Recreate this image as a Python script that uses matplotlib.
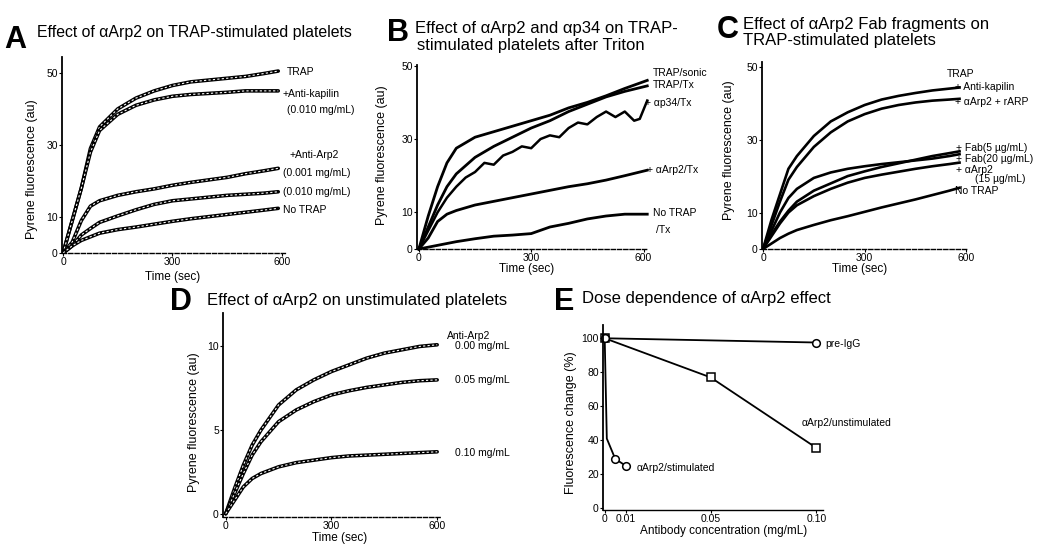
import matplotlib
matplotlib.use('Agg')
import matplotlib.pyplot as plt

plt.rcParams['font.family'] = ['Liberation Sans', 'DejaVu Sans']
plt.rcParams['pdf.fonttype'] = 42

W, H = 1050, 555

# ---------------- data ----------------
# A: TRAP-stimulated platelets, antibody against Arp2
t_a = [0, 25, 50, 75, 100, 150, 200, 250, 300, 350, 400, 450, 500, 550, 590]
a_trap = [0, 9, 18, 29, 35, 40, 43, 45, 46.5, 47.5, 48, 48.5, 49, 49.8, 50.5]
a_kapilin = [0, 9, 18, 28, 34, 38.5, 41, 42.5, 43.5, 44, 44.3, 44.6, 45, 45, 45]
a_arp2_001 = [0, 3, 9, 13, 14.5, 16, 17, 17.8, 18.8, 19.6, 20.3, 21, 22, 22.8, 23.5]
a_arp2_010 = [0, 2, 5, 6.8, 8.5, 10.3, 12, 13.5, 14.5, 15, 15.5, 16, 16.3, 16.6, 17]
a_notrap = [0, 2, 3.5, 4.5, 5.5, 6.5, 7.2, 8, 8.8, 9.5, 10.1, 10.7, 11.3, 11.9, 12.4]

# B: after Triton
t_b = [0, 25, 50, 75, 100, 150, 200, 250, 300, 350, 400, 450, 500, 550, 610]
b_sonic = [0, 9, 17, 23.5, 27.5, 30.5, 32, 33.5, 35, 36.5, 38.5, 40, 41.8, 43.8, 46]
b_tx = [0, 6, 12, 17, 20.5, 25, 28, 30.5, 33, 35, 37.5, 39.5, 41.5, 43, 44.5]
b_arp2 = [0, 3, 7.5, 9.5, 10.5, 12, 13, 14, 15, 16, 17, 17.8, 18.8, 20, 21.5]
b_notrap = [0, 0.5, 1, 1.5, 2, 2.8, 3.5, 3.8, 4.2, 6, 7, 8.2, 9, 9.5, 9.5]
t_b_p34 = [0, 25, 50, 75, 100, 125, 150, 175, 200, 225, 250, 275, 300, 325, 350,
           375, 400, 425, 450, 475, 500, 525, 550, 575, 590, 610]
b_p34 = [0, 5, 10, 14, 17, 19.5, 21, 23.5, 23, 25.5, 26.5, 28, 27.5, 30, 31,
         30.5, 33, 34.5, 34, 36, 37.5, 36, 37.5, 35, 35.5, 40.5]

# C: Fab fragments
t_c = [0, 25, 50, 75, 100, 150, 200, 250, 300, 350, 400, 450, 500, 550, 580]
c_kapilin = [0, 8, 15, 22, 25.5, 31, 35, 37.5, 39.5, 41, 42, 42.8, 43.5, 44, 44.3]
c_rarp = [0, 6.5, 13, 19, 22.5, 28, 32, 35, 37, 38.5, 39.5, 40.2, 40.7, 41, 41.2]
c_fab5 = [0, 5, 10, 14, 16.5, 19.5, 21, 22, 22.7, 23.3, 23.8, 24.3, 24.8, 25.5, 26]
c_fab20 = [0, 4, 7.5, 10.5, 13, 16, 18, 20, 21.3, 22.5, 23.5, 24.5, 25.5, 26.3, 26.8]
c_arp2 = [0, 3.5, 7, 10, 12, 14.5, 16.5, 18.2, 19.5, 20.4, 21.2, 22, 22.7, 23.3, 23.7]
c_notrap = [0, 1.5, 3, 4.2, 5.2, 6.6, 7.9, 9, 10.2, 11.4, 12.5, 13.6, 14.8, 16, 16.8]

# D: unstimulated platelets
t_d = [0, 25, 50, 75, 100, 150, 200, 250, 300, 350, 400, 450, 500, 550, 600]
d_000 = [0, 1.5, 2.9, 4.1, 5, 6.5, 7.4, 8, 8.5, 8.9, 9.3, 9.6, 9.8, 10, 10.1]
d_005 = [0, 1.2, 2.4, 3.5, 4.3, 5.5, 6.2, 6.7, 7.1, 7.35, 7.55, 7.7, 7.85, 7.95, 8.0]
d_010 = [0, 0.8, 1.6, 2.1, 2.4, 2.8, 3.05, 3.2, 3.35, 3.45, 3.5, 3.55, 3.6, 3.65, 3.7]

# E: dose dependence
e_igg_x = [0, 0.10]
e_igg_y = [100, 97.5]
e_unstim_x = [0, 0.05, 0.10]
e_unstim_y = [100, 77, 35.5]
e_stim_x = [0, 0.001, 0.005, 0.010]
e_stim_y = [100, 41, 29, 25]


def ax_at(fig, x0, y0, x1, y1):
    return fig.add_axes([x0 / W, 1 - y1 / H, (x1 - x0) / W, (y1 - y0) / H])


def ftext(fig, x, y, s, **kw):
    fig.text(x / W, 1 - y / H, s, **kw)


def style(ax, xt, yt, dashed=True):
    ax.spines['top'].set_visible(False)
    ax.spines['right'].set_visible(False)
    ax.spines['left'].set_linewidth(1.3)
    ax.spines['bottom'].set_linewidth(1.0)
    if dashed:
        ax.spines['bottom'].set_linestyle((0, (3, 1.5)))
    ax.tick_params(length=2, width=0.8, labelsize=7.5, pad=1)
    ax.set_xticks(xt)
    ax.set_yticks(yt)


def hollow(ax, t, v):
    ax.plot(t, v, color='black', lw=2.6, solid_capstyle='round')
    ax.plot(t, v, color='white', lw=0.8, ls=(0, (2, 2)))


fig = plt.figure(figsize=(10.5, 5.55), dpi=100)

lab = dict(fontsize=7.5, va='center', ha='left')
title = dict(fontsize=12, va='center', ha='left')
letter = dict(fontsize=22, fontweight='bold', va='center', ha='left')
ylab = dict(fontsize=9, ha='center', va='center', rotation=90)
xlab = dict(fontsize=8.5, ha='center', va='center')

# ---------------- A ----------------
ax = ax_at(fig, 62, 57, 287, 253)
for v in [a_trap, a_kapilin, a_arp2_001, a_arp2_010, a_notrap]:
    hollow(ax, t_a, v)
ax.set_xlim(-3, 614)
ax.set_ylim(0, 54.4)
style(ax, [0, 300, 600], [0, 10, 30, 50])
ax.text(614, 50.3, 'TRAP', **lab)
ax.text(603, 44.2, '+Anti-kapilin', **lab)
ax.text(614, 39.7, '(0.010 mg/mL)', **lab)
ax.text(622, 27.2, '+Anti-Arp2', **lab)
ax.text(603, 22.2, '(0.001 mg/mL)', **lab)
ax.text(603, 16.9, '(0.010 mg/mL)', **lab)
ax.text(603, 11.9, 'No TRAP', **lab)
ftext(fig, 4, 40, 'A', **letter)
ftext(fig, 37, 33, 'Effect of αArp2 on TRAP-stimulated platelets', fontsize=11.4,
      va='center', ha='left')
ftext(fig, 32, 169, 'Pyrene fluorescence (au)', **ylab)
ftext(fig, 173, 277, 'Time (sec)', **xlab)

# ---------------- B ----------------
ax = ax_at(fig, 417, 65, 648, 249)
for v in [b_sonic, b_tx, b_arp2, b_notrap]:
    ax.plot(t_b, v, color='black', lw=2.0, clip_on=False)
ax.plot(t_b_p34, b_p34, color='black', lw=1.8, clip_on=False)
ax.set_xlim(-5, 612)
ax.set_ylim(0, 50.2)
style(ax, [0, 300, 600], [0, 10, 30, 50])
ax.text(626, 47.9, 'TRAP/sonic', **lab)
ax.text(626, 44.7, 'TRAP/Tx', **lab)
ax.text(604, 39.7, '+ αp34/Tx', **lab)
ax.text(608, 21.5, '+ αArp2/Tx', **lab)
ax.text(626, 9.7, 'No TRAP', **lab)
ax.text(634, 5.2, '/Tx', **lab)
ftext(fig, 387, 33, 'B', **letter)
ftext(fig, 415, 28, 'Effect of αArp2 and αp34 on TRAP-', **title)
ftext(fig, 417, 45, 'stimulated platelets after Triton', **title)
ftext(fig, 382, 155, 'Pyrene fluorescence (au)', **ylab)
ftext(fig, 527, 269, 'Time (sec)', **xlab)

# ---------------- C ----------------
ax = ax_at(fig, 762, 62, 968, 249)
for v in [c_kapilin, c_rarp, c_fab5, c_fab20, c_arp2, c_notrap]:
    ax.plot(t_c, v, color='black', lw=1.9)
ax.set_xlim(-3, 605)
ax.set_ylim(0, 51.3)
style(ax, [0, 300, 600], [0, 10, 30, 50])
ax.text(542, 48.1, 'TRAP', **lab)
ax.text(566, 44.5, '+ Anti-kapilin', **lab)
ax.text(566, 40.4, '+ αArp2 + rARP', **lab)
ax.text(571, 27.6, '+ Fab(5 µg/mL)', **lab)
ax.text(571, 24.6, '+ Fab(20 µg/mL)', **lab)
ax.text(571, 21.6, '+ αArp2', **lab)
ax.text(625, 19.2, '(15 µg/mL)', **lab)
ax.text(566, 15.9, 'No TRAP', **lab)
ftext(fig, 717, 30, 'C', **letter)
ftext(fig, 743, 25, 'Effect of αArp2 Fab fragments on', **title)
ftext(fig, 743, 40, 'TRAP-stimulated platelets', **title)
ftext(fig, 729, 150, 'Pyrene fluorescence (au)', **ylab)
ftext(fig, 860, 269, 'Time (sec)', **xlab)

# ---------------- D ----------------
ax = ax_at(fig, 223, 313, 440, 517)
for v in [d_000, d_005, d_010]:
    hollow(ax, t_d, v)
ax.set_xlim(-7.7, 608)
ax.set_ylim(-0.2, 12)
style(ax, [0, 300, 600], [0, 5, 10])
ax.text(627, 10.6, 'Anti-Arp2', **lab)
ax.text(650, 10.0, '0.00 mg/mL', **lab)
ax.text(650, 7.97, '0.05 mg/mL', **lab)
ax.text(650, 3.62, '0.10 mg/mL', **lab)
ftext(fig, 170, 302, 'D', **letter)
ftext(fig, 207, 300, 'Effect of αArp2 on unstimulated platelets', **title)
ftext(fig, 194, 422, 'Pyrene fluorescence (au)', **ylab)
ftext(fig, 340, 538, 'Time (sec)', **xlab)

# ---------------- E ----------------
ax = ax_at(fig, 603, 325, 823, 510)
mk = dict(color='black', lw=1.3, markersize=5.5, markerfacecolor='white',
          markeredgewidth=1.1, clip_on=False)
ax.plot(e_igg_x, e_igg_y, marker='o', **mk)
ax.plot(e_unstim_x, e_unstim_y, marker='s', **mk)
ax.plot(e_stim_x, e_stim_y, marker='o', markevery=[0, 2, 3], **mk)
ax.set_xlim(-0.0008, 0.1031)
ax.set_ylim(-1, 107.8)
style(ax, [0, 0.01, 0.05, 0.10], [0, 20, 40, 60, 80, 100], dashed=False)
ax.set_xticklabels(['0', '0.01', '0.05', '0.10'])
ax.text(0.104, 96.6, 'pre-IgG', **lab)
ax.text(0.0929, 50, 'αArp2/unstimulated', **lab)
ax.text(0.015, 23.5, 'αArp2/stimulated', **lab)
ftext(fig, 554, 302, 'E', **letter)
ftext(fig, 582, 298, 'Dose dependence of αArp2 effect', **title)
ftext(fig, 571, 423, 'Fluorescence change (%)', **ylab)
ftext(fig, 724, 531, 'Antibody concentration (mg/mL)', **xlab)

fig.savefig('out.png', dpi=100)
